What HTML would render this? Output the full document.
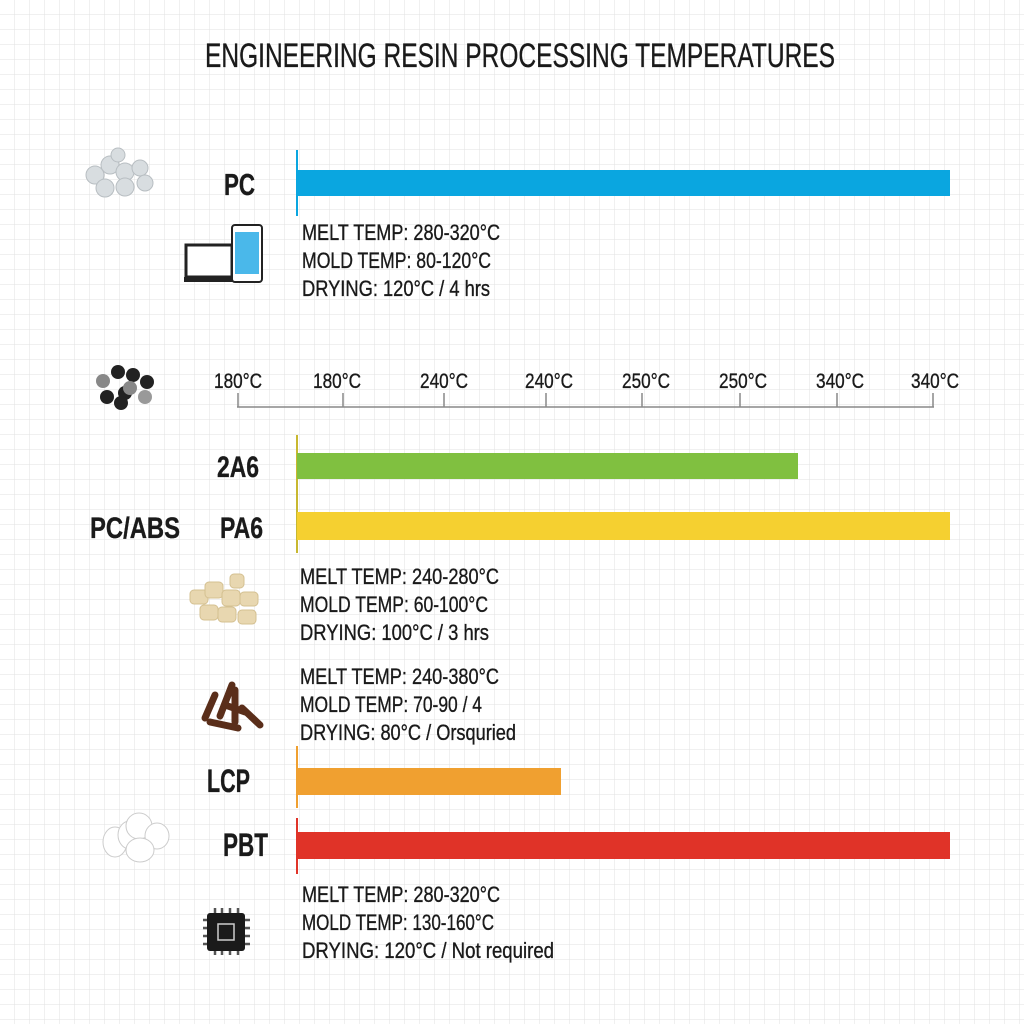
<!DOCTYPE html>
<html><head><meta charset="utf-8"><style>
body{margin:0;background:#fff}
text{font-family:"Liberation Sans",sans-serif;fill:#1a1a1a;stroke:#1a1a1a;stroke-width:0.35}
</style></head><body>
<svg width="1024" height="1024" xmlns="http://www.w3.org/2000/svg">
<defs><pattern id="g" width="15" height="15" patternUnits="userSpaceOnUse"><path d="M15 0V15H0" fill="none" stroke="#e2e2e2" stroke-width="1"/></pattern></defs>
<rect width="1024" height="1024" fill="#fff"/>
<rect width="1024" height="1024" fill="url(#g)"/>
<text x="205" y="67" font-size="34" textLength="630" lengthAdjust="spacingAndGlyphs">ENGINEERING RESIN PROCESSING TEMPERATURES</text>

<g fill="#d8dde0" stroke="#b8bec2"><circle cx="95" cy="175" r="9"/><circle cx="110" cy="165" r="9"/><circle cx="125" cy="172" r="9"/><circle cx="140" cy="168" r="8"/><circle cx="105" cy="188" r="9"/><circle cx="125" cy="187" r="9"/><circle cx="145" cy="183" r="8"/><circle cx="118" cy="155" r="7"/></g>
<text x="224" y="195" font-size="31" font-weight="bold" textLength="31" lengthAdjust="spacingAndGlyphs">PC</text>
<line x1="297" y1="150" x2="297" y2="216" stroke="#0aa6e0" stroke-width="2"/>
<rect x="297" y="170" width="653" height="26" fill="#0aa6e0"/>
<rect x="186" y="245" width="46" height="32" fill="#fff" stroke="#222" stroke-width="3"/>
<rect x="184" y="277" width="52" height="5" fill="#222"/>
<rect x="232" y="225" width="30" height="57" rx="3" fill="#fff" stroke="#222" stroke-width="2"/>
<rect x="235" y="232" width="24" height="42" fill="#4ab8ea"/>
<g font-size="22"><text x="302" y="240" textLength="198" lengthAdjust="spacingAndGlyphs">MELT TEMP: 280-320°C</text><text x="302" y="268" textLength="189" lengthAdjust="spacingAndGlyphs">MOLD TEMP: 80-120°C</text><text x="302" y="296" textLength="188" lengthAdjust="spacingAndGlyphs">DRYING: 120°C / 4 hrs</text></g>

<g fill="#222"><circle cx="103" cy="381" r="7" fill="#888"/><circle cx="118" cy="372" r="7"/><circle cx="133" cy="375" r="7"/><circle cx="147" cy="382" r="7"/><circle cx="107" cy="397" r="7"/><circle cx="125" cy="393" r="7"/><circle cx="130" cy="388" r="7" fill="#888"/><circle cx="145" cy="397" r="7" fill="#999"/><circle cx="121" cy="403" r="7"/></g>
<g font-size="21">
<text x="214" y="388" textLength="48" lengthAdjust="spacingAndGlyphs">180°C</text><text x="313" y="388" textLength="48" lengthAdjust="spacingAndGlyphs">180°C</text><text x="420" y="388" textLength="48" lengthAdjust="spacingAndGlyphs">240°C</text><text x="525" y="388" textLength="48" lengthAdjust="spacingAndGlyphs">240°C</text><text x="622" y="388" textLength="48" lengthAdjust="spacingAndGlyphs">250°C</text><text x="719" y="388" textLength="48" lengthAdjust="spacingAndGlyphs">250°C</text><text x="816" y="388" textLength="48" lengthAdjust="spacingAndGlyphs">340°C</text><text x="911" y="388" textLength="48" lengthAdjust="spacingAndGlyphs">340°C</text></g>
<g stroke="#888" stroke-width="1.5"><line x1="237" y1="407" x2="934" y2="407"/>
<line x1="238" y1="393" x2="238" y2="407"/><line x1="343" y1="393" x2="343" y2="407"/><line x1="444" y1="393" x2="444" y2="407"/><line x1="546" y1="393" x2="546" y2="407"/><line x1="642" y1="393" x2="642" y2="407"/><line x1="740" y1="393" x2="740" y2="407"/><line x1="837" y1="393" x2="837" y2="407"/><line x1="933" y1="393" x2="933" y2="407"/></g>

<line x1="297" y1="435" x2="297" y2="553" stroke="#c8b830" stroke-width="2"/>
<text x="217" y="477" font-size="30" font-weight="bold" textLength="42" lengthAdjust="spacingAndGlyphs">2A6</text>
<rect x="297" y="453" width="501" height="26" fill="#80c040"/>
<text x="90" y="538" font-size="30" font-weight="bold" textLength="90" lengthAdjust="spacingAndGlyphs">PC/ABS</text>
<text x="220" y="538" font-size="30" font-weight="bold" textLength="43" lengthAdjust="spacingAndGlyphs">PA6</text>
<rect x="297" y="512" width="653" height="28" fill="#f5d030"/>
<g fill="#e8d7b0" stroke="#d4c091"><rect x="190" y="590" width="18" height="14" rx="4"/><rect x="205" y="582" width="18" height="16" rx="4"/><rect x="222" y="590" width="18" height="16" rx="4"/><rect x="240" y="592" width="18" height="14" rx="4"/><rect x="200" y="605" width="18" height="15" rx="4"/><rect x="218" y="607" width="18" height="15" rx="4"/><rect x="238" y="610" width="18" height="14" rx="4"/><rect x="230" y="574" width="14" height="14" rx="4"/></g>
<g font-size="22"><text x="300" y="584" textLength="199" lengthAdjust="spacingAndGlyphs">MELT TEMP: 240-280°C</text><text x="300" y="612" textLength="188" lengthAdjust="spacingAndGlyphs">MOLD TEMP: 60-100°C</text><text x="300" y="640" textLength="189" lengthAdjust="spacingAndGlyphs">DRYING: 100°C / 3 hrs</text></g>
<g stroke="#5a2e1a" stroke-width="7" stroke-linecap="round"><line x1="205" y1="718" x2="215" y2="695"/><line x1="220" y1="716" x2="232" y2="685"/><line x1="235" y1="722" x2="235" y2="690"/><line x1="210" y1="722" x2="238" y2="728"/><line x1="242" y1="708" x2="260" y2="725"/><line x1="225" y1="705" x2="245" y2="712"/></g>
<g font-size="22"><text x="300" y="684" textLength="199" lengthAdjust="spacingAndGlyphs">MELT TEMP: 240-380°C</text><text x="300" y="712" textLength="182" lengthAdjust="spacingAndGlyphs">MOLD TEMP: 70-90 / 4</text><text x="300" y="740" textLength="216" lengthAdjust="spacingAndGlyphs">DRYING: 80°C / Orsquried</text></g>

<line x1="297" y1="746" x2="297" y2="808" stroke="#f0a030" stroke-width="2"/>
<text x="207" y="792" font-size="32" font-weight="bold" textLength="43" lengthAdjust="spacingAndGlyphs">LCP</text>
<rect x="297" y="768" width="264" height="27" fill="#f0a030"/>
<g fill="#fff" stroke="#ccc"><ellipse cx="115" cy="842" rx="12" ry="15"/><ellipse cx="130" cy="835" rx="12" ry="14"/><ellipse cx="139" cy="826" rx="13" ry="13"/><ellipse cx="157" cy="836" rx="12" ry="13"/><ellipse cx="140" cy="850" rx="14" ry="12"/></g>
<text x="223" y="856" font-size="32" font-weight="bold" textLength="45" lengthAdjust="spacingAndGlyphs">PBT</text>
<line x1="297" y1="818" x2="297" y2="874" stroke="#e03328" stroke-width="2"/>
<rect x="297" y="832" width="653" height="27" fill="#e03328"/>
<g stroke="#555" stroke-width="2.5"><line x1="203" y1="920" x2="250" y2="920"/><line x1="203" y1="928" x2="250" y2="928"/><line x1="203" y1="936" x2="250" y2="936"/><line x1="203" y1="944" x2="250" y2="944"/><line x1="215" y1="908" x2="215" y2="955"/><line x1="222" y1="908" x2="222" y2="955"/><line x1="230" y1="908" x2="230" y2="955"/><line x1="238" y1="908" x2="238" y2="955"/></g>
<rect x="207" y="913" width="38" height="38" rx="3" fill="#1a1a1a"/>
<rect x="218" y="924" width="16" height="16" fill="none" stroke="#ccc" stroke-width="1.5"/>
<g font-size="22"><text x="302" y="902" textLength="198" lengthAdjust="spacingAndGlyphs">MELT TEMP: 280-320°C</text><text x="302" y="930" textLength="192" lengthAdjust="spacingAndGlyphs">MOLD TEMP: 130-160°C</text><text x="302" y="958" textLength="252" lengthAdjust="spacingAndGlyphs">DRYING: 120°C / Not required</text></g>
</svg>
</body></html>
